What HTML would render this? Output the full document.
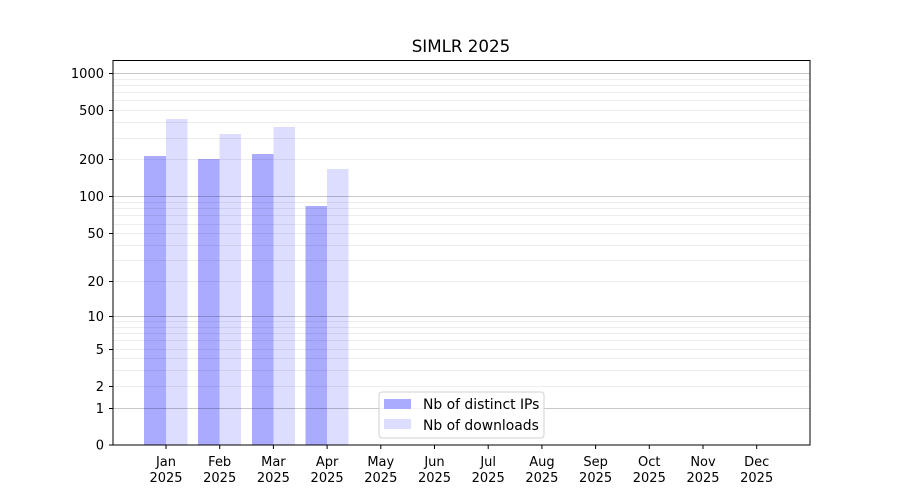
<!DOCTYPE html>
<html><head><meta charset="utf-8"><style>
body{margin:0;background:#fff}
svg{display:block;font-family:"DejaVu Sans","Liberation Sans",sans-serif}
</style></head><body>
<svg id="s" width="900" height="500" viewBox="0 0 900 500" xmlns="http://www.w3.org/2000/svg">
<rect width="900" height="500" fill="#fff"/>
<text x="461" y="52" font-size="16.7" text-anchor="middle">SIMLR 2025</text>
<g id="bars">
<rect x="144" y="156" width="22" height="289" fill="#aaaaff"/>
<rect x="166" y="119" width="21.5" height="326" fill="#ddddff"/>
<rect x="198" y="159" width="21.5" height="286" fill="#aaaaff"/>
<rect x="219.5" y="134" width="21.5" height="311" fill="#ddddff"/>
<rect x="252" y="154" width="21.5" height="291" fill="#aaaaff"/>
<rect x="273.5" y="127" width="21.5" height="318" fill="#ddddff"/>
<rect x="305.5" y="206" width="21.5" height="239" fill="#aaaaff"/>
<rect x="327" y="169" width="21.5" height="276" fill="#ddddff"/>
</g>
<g id="grid"></g>
<rect x="113" y="60.5" width="697" height="384.5" fill="none" stroke="#000" stroke-width="1"/>
<g id="yt" font-size="13" text-anchor="end"></g>
<g id="xt" font-size="13" text-anchor="middle"></g>
<g>
<rect x="379" y="392" width="165" height="46" rx="3" fill="#fff" fill-opacity="0.8" stroke="#d0d0d0"/>
<rect x="384" y="399" width="27" height="10" fill="#aaaaff"/>
<rect x="384" y="419" width="27" height="10" fill="#ddddff"/>
<text x="423" y="409" font-size="13.9">Nb of distinct IPs</text>
<text x="423" y="430" font-size="13.9">Nb of downloads</text>
</g>
</svg>
<script>
var NS="http://www.w3.org/2000/svg";
function el(p,t,a,txt){var e=document.createElementNS(NS,t);for(var k in a)e.setAttribute(k,a[k]);if(txt!=null)e.textContent=txt;document.getElementById(p).appendChild(e);}
function y(v){return 445-124*Math.log10(1+v);}
function r(v){return Math.round(y(v))+0.5;}
for(var d=1;d<=100;d*=10)for(var m=2;m<=9;m++){var yy=r(m*d);el("grid","line",{x1:113,x2:810,y1:yy,y2:yy,stroke:"#000","stroke-opacity":0.07,"stroke-width":1});}
[1,10,100,1000].forEach(function(v){el("grid","line",{x1:113,x2:810,y1:r(v),y2:r(v),stroke:"#000","stroke-opacity":0.22,"stroke-width":1});});
[0,1,2,5,10,20,50,100,200,500,1000].forEach(function(v){var yy=v==0?445:r(v);el("yt","line",{x1:109,x2:113,y1:yy,y2:yy,stroke:"#000"});el("yt","text",{x:104,y:yy+4.5},String(v));});
var mo=["Jan","Feb","Mar","Apr","May","Jun","Jul","Aug","Sep","Oct","Nov","Dec"];
mo.forEach(function(m,i){var x=166+i*53.7;el("xt","line",{x1:x,x2:x,y1:445,y2:449,stroke:"#000"});el("xt","text",{x:x,y:466},m);el("xt","text",{x:x,y:482},"2025");});
</script>
</body></html>
